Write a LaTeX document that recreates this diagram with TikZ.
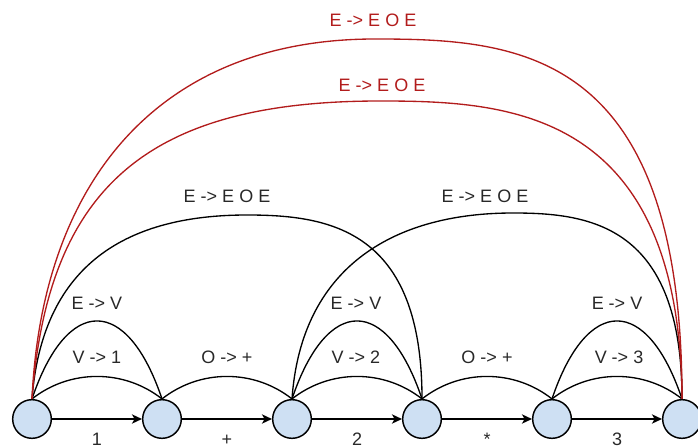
\documentclass[tikz,border=0pt]{standalone}
\usepackage{fontspec}
\setmainfont{Liberation Sans}
\usetikzlibrary{arrows.meta}
\definecolor{stfill}{RGB}{206,224,243}
\definecolor{arcred}{RGB}{178,28,28}
\definecolor{lblgray}{RGB}{40,40,40}

\begin{document}
\begin{tikzpicture}[x=0.75pt,y=-0.75pt,
  state/.style={circle,draw,line width=1.1pt,fill=stfill,minimum size=29pt,inner sep=0pt},
  arr/.style={line width=1pt,-{Stealth[length=7.5pt,width=7pt,inset=2pt]}},
  arc/.style={line width=1pt},
  redarc/.style={arc,arcred},
  lbl/.style={anchor=base,font=\fontsize{13.5}{16}\selectfont,text=lblgray,inner sep=0pt},
  redlbl/.style={lbl,text=arcred}]
\useasboundingbox (0,0) rectangle (698,448);
\foreach \i in {0,...,5} {
   \node[state] (n\i) at (32+130*\i,419) {};
}
\foreach \a/\b/\t in {0/1/1,1/2/+,2/3/2,3/4/*,4/5/3} {
   \draw[arr] (n\a) -- node[lbl,yshift=-19.5pt] (t\b) {\t} (n\b);
}
\foreach \a/\b in {0/1,1/2,2/3,3/4,4/5} {
   \draw[arc] (n\a.north) .. controls +(38,-30) and +(-38,-30) .. (n\b.north);
}
\foreach \a/\b in {0/1,2/3,4/5} {
   \draw[arc] (n\a.north) .. controls +(35,-104) and +(-35,-104) .. (n\b.north);
}
\draw[arc] (n0.north) .. controls (42,270) and (120,215) .. (247,215)
   .. controls (330,215) and (422,230) .. (n3.north);
\draw[arc] (n2.north) .. controls (301,270) and (390,213) .. (513,213)
   .. controls (590,213) and (682,225) .. (n5.north);
\draw[redarc] (n0.north) .. controls (42,180) and (160,39) .. (375,39)
   .. controls (520,39) and (682,50) .. (n5.north);
\draw[redarc] (n0.north) .. controls (48,185) and (150,101) .. (380,101)
   .. controls (510,101) and (680,110) .. (n5.north);
\foreach \x/\t [count=\k] in {97/V -> 1,227/O -> +,356/V -> 2,487/O -> +,619/V -> 3} {
   \node[lbl] (lo\k) at (\x,363) {\t};
}
\foreach \x [count=\k] in {97,356,617} {
   \node[lbl] (hi\k) at (\x,310) {E -> V};
}
\node[lbl] (eoeA) at (227,203) {E -> E O E};
\node[lbl] (eoeB) at (485,203) {E -> E O E};
\node[redlbl] (eoeC) at (382,92) {E -> E O E};
\node[redlbl] (eoeD) at (373,27) {E -> E O E};
\end{tikzpicture}
\end{document}
